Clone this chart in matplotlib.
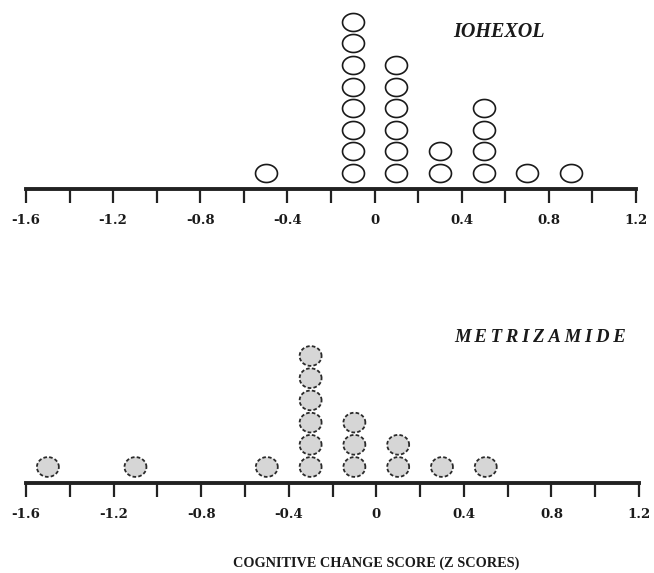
import numpy as np
import matplotlib
matplotlib.use("Agg")
import matplotlib.pyplot as plt
from matplotlib.path import Path
from matplotlib.ticker import MultipleLocator, FuncFormatter

# dot plot data: score bins and number of patients in each
iohexol_scores = [-0.5, -0.1, 0.1, 0.3, 0.5, 0.7, 0.9]
iohexol_counts = [1, 8, 6, 2, 4, 1, 1]

metriz_scores = [-1.5, -1.1, -0.5, -0.3, -0.1, 0.1, 0.3, 0.5]
metriz_counts = [1, 1, 1, 6, 3, 2, 1, 1]

x_min, x_max = -1.6, 1.2
x_label = "COGNITIVE CHANGE SCORE (Z SCORES)"

W, H = 654, 573


def ellipse_marker(ratio):
    t = np.linspace(0, 2 * np.pi, 60)
    return Path(np.column_stack([np.cos(t), ratio * np.sin(t)]), closed=True)


def stack(scores, counts):
    xs, ys = [], []
    for s, c in zip(scores, counts):
        for k in range(c):
            xs.append(s)
            ys.append(k)
    return xs, ys


def fmt(v, pos):
    if abs(v) < 1e-9:
        return "0"
    return f"{v:.1f}"


def setup_axis(ax, lo, hi):
    ax.set_xlim(x_min, x_max)
    ax.set_ylim(lo, hi)
    for s in ["top", "left", "right"]:
        ax.spines[s].set_visible(False)
    ax.spines["bottom"].set_linewidth(2.8)
    ax.spines["bottom"].set_color("#222222")
    ax.set_yticks([])
    ax.xaxis.set_major_locator(MultipleLocator(0.4))
    ax.xaxis.set_minor_locator(MultipleLocator(0.2))
    ax.xaxis.set_major_formatter(FuncFormatter(fmt))
    ax.tick_params(axis="x", which="both", direction="out", length=10,
                   width=1.6, color="#222222", pad=8)
    for lab in ax.get_xticklabels():
        lab.set_fontfamily("DejaVu Serif")
        lab.set_fontweight("bold")
        lab.set_fontsize(9.5)
        lab.set_color("#1a1a1a")
    ax.patch.set_alpha(0)


fig = plt.figure(figsize=(W / 100, H / 100), dpi=100)

# top panel: iohexol
ax1 = fig.add_axes([26 / W, (H - 189) / H, 610 / W, 189 / H])
sp1 = 21.6
lo1 = -16 / sp1
setup_axis(ax1, lo1, lo1 + 189 / sp1)
xs, ys = stack(iohexol_scores, iohexol_counts)
ax1.scatter(xs, ys, s=250, marker=ellipse_marker(0.82), facecolor="white",
            edgecolor="#1a1a1a", linewidth=1.2, clip_on=False, zorder=3)

# bottom panel: metrizamide
ax2 = fig.add_axes([26 / W, (H - 483) / H, 613 / W, 163 / H])
sp2 = 22.2
lo2 = -16 / sp2
setup_axis(ax2, lo2, lo2 + 163 / sp2)
xs, ys = stack(metriz_scores, metriz_counts)
ax2.scatter(xs, ys, s=250, marker=ellipse_marker(0.9), facecolor="#d6d6d6",
            edgecolor="#2a2a2a", linewidth=1.3, linestyle=(0, (2, 1.2)),
            clip_on=False, zorder=3)

fig.text(499 / W, 1 - 32 / H, "IOHEXOL", family="Liberation Serif",
         style="italic", weight="bold", fontsize=14.5, ha="center", va="center",
         color="#1a1a1a")
fig.text(540 / W, 1 - 338 / H, "\u2009".join("METRIZAMIDE"),
         family="Liberation Serif", style="italic", weight="bold", fontsize=13.5,
         ha="center", va="center", color="#1a1a1a")
fig.text(376 / W, 1 - 563 / H, x_label, family="Liberation Serif",
         weight="bold", fontsize=10.3, ha="center", va="center", color="#1a1a1a")

fig.savefig("out.png", dpi=100)
